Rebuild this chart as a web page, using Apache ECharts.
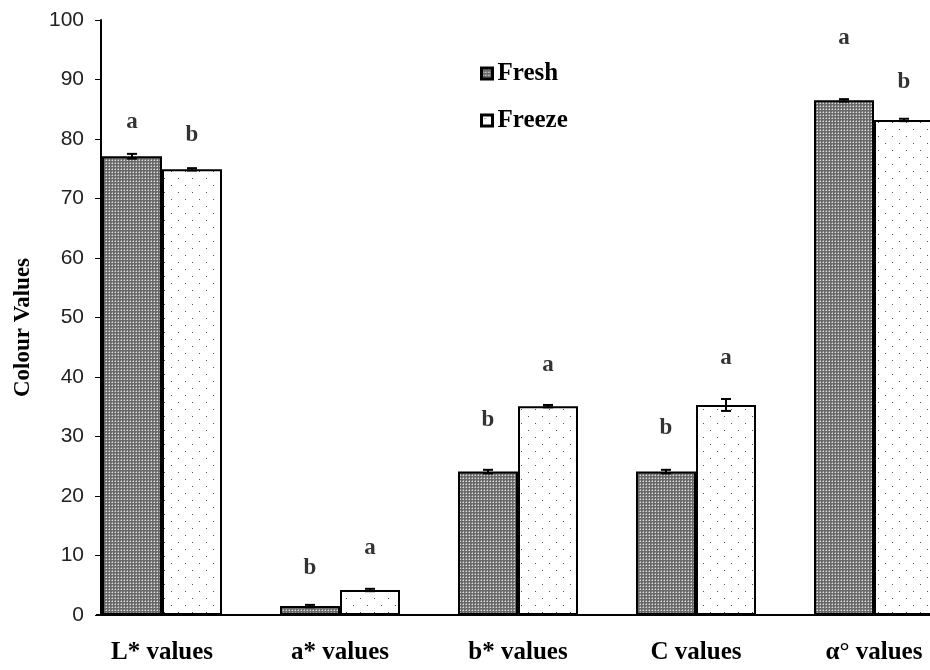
<!DOCTYPE html>
<html>
<head>
<meta charset="utf-8">
<script src="https://cdn.jsdelivr.net/npm/echarts@6/dist/echarts.min.js"></script>
<style>
  html, body { margin: 0; padding: 0; background: #fff; }
  #main { width: 930px; height: 670px; }
</style>
</head>
<body>
<div id="main"></div>
<script>
// data
var categories = ['L* values', 'a* values', 'b* values', 'C values', 'α° values'];
var freshValues = [77.1, 1.5, 24.1, 24.1, 86.5];
var freezeValues = [74.9, 4.2, 35.1, 35.3, 83.2];
var freshErr = [0.4, 0.2, 0.3, 0.3, 0.2];
var freezeErr = [0.2, 0.2, 0.2, 1.0, 0.2];
var freshLetters = ['a', 'b', 'b', 'b', 'a'];
var freezeLetters = ['b', 'a', 'a', 'a', 'b'];
// where the letters sit (in y units)
var freshLetterY = [82.9, 7.9, 32.8, 31.4, 97.0];
var freezeLetterY = [80.7, 11.3, 42.0, 43.2, 89.6];
var yTicks = [0, 10, 20, 30, 40, 50, 60, 70, 80, 90, 100];

var chart = echarts.init(document.getElementById('main'));

// fill patterns
function freshPattern() {
  var c = document.createElement('canvas');
  c.width = 3; c.height = 3;
  var ctx = c.getContext('2d');
  ctx.fillStyle = '#6a6a6a';
  ctx.fillRect(0, 0, 3, 3);
  ctx.fillStyle = '#dcdcdc';
  ctx.fillRect(1, 1, 1, 1);
  ctx.fillStyle = '#a2a2a2';
  ctx.fillRect(0, 1, 1, 1);
  ctx.fillRect(1, 0, 1, 1);
  return c;
}
function freezePattern() {
  var c = document.createElement('canvas');
  c.width = 14; c.height = 14;
  var ctx = c.getContext('2d');
  ctx.fillStyle = '#ffffff';
  ctx.fillRect(0, 0, 14, 14);
  ctx.fillStyle = '#555';
  ctx.fillRect(3, 3, 1, 1);
  ctx.fillRect(10, 10, 1, 1);
  return c;
}

var barW = 60;
var serif = '"Liberation Serif", "DejaVu Serif", serif';

function errData(vals, errs) {
  return vals.map(function (v, i) { return [i, v, errs[i]]; });
}
function errRender(off) {
  return function (params, api) {
    var i = api.value(0), v = api.value(1), e = api.value(2);
    var t = api.coord([i, v + e]);
    var b = api.coord([i, v - e]);
    var x = t[0] + off;
    var st = { stroke: '#000', lineWidth: 2 };
    return {
      type: 'group',
      children: [
        { type: 'line', shape: { x1: x, y1: t[1], x2: x, y2: b[1] }, style: st },
        { type: 'line', shape: { x1: x - 5, y1: t[1], x2: x + 5, y2: t[1] }, style: st },
        { type: 'line', shape: { x1: x - 5, y1: b[1], x2: x + 5, y2: b[1] }, style: st }
      ]
    };
  };
}
function letterData(ys) {
  return ys.map(function (y, i) { return [i, y]; });
}

var option = {
  backgroundColor: '#fff',
  animation: false,
  grid: { left: 73, width: 890, top: 20, bottom: 55, outerBoundsMode: 'none', containLabel: false },
  legend: {
    data: ['Fresh', 'Freeze'],
    orient: 'vertical',
    left: 475,
    top: 56,
    icon: 'rect',
    itemWidth: 11,
    itemHeight: 11,
    itemGap: 22,
    itemStyle: { borderColor: '#000', borderWidth: 3 },
    textStyle: { fontFamily: serif, fontWeight: 'bold', fontSize: 25, color: '#000' }
  },
  xAxis: {
    type: 'category',
    data: categories,
    axisLine: { show: false },
    axisTick: { show: false },
    axisLabel: {
      margin: 25,
      fontFamily: serif,
      fontWeight: 'bold',
      fontSize: 25,
      color: '#000'
    }
  },
  yAxis: {
    type: 'value',
    min: yTicks[0],
    max: yTicks[yTicks.length - 1],
    interval: 10,
    offset: -28,
    name: 'Colour Values',
    nameLocation: 'middle',
    nameGap: 66,
    nameRotate: 90,
    nameTextStyle: { fontFamily: serif, fontWeight: 'bold', fontSize: 23, color: '#000', padding: [0, 20, 0, 0] },
    splitLine: { show: false },
    axisLine: { show: true, lineStyle: { color: '#000', width: 2 } },
    axisTick: { show: true, length: 6, lineStyle: { color: '#000', width: 1 } },
    axisLabel: {
      margin: 17,
      fontFamily: '"Liberation Sans", Arial, sans-serif',
      fontSize: 21,
      color: '#222'
    }
  },
  graphic: [{
    type: 'line',
    shape: { x1: 96, y1: 615, x2: 930, y2: 615 },
    style: { stroke: '#000', lineWidth: 2 },
    z: 10
  }],
  series: [
    {
      name: 'Fresh',
      type: 'bar',
      data: freshValues,
      barWidth: barW,
      barGap: '0%',
      itemStyle: {
        color: { image: freshPattern(), repeat: 'repeat' },
        borderColor: '#000',
        borderWidth: 2
      }
    },
    {
      name: 'Freeze',
      type: 'bar',
      data: freezeValues,
      barWidth: barW,
      barGap: '0%',
      itemStyle: {
        color: { image: freezePattern(), repeat: 'repeat' },
        borderColor: '#000',
        borderWidth: 2
      }
    },
    {
      name: 'freshErr',
      type: 'custom',
      data: errData(freshValues, freshErr),
      renderItem: errRender(-barW / 2),
      z: 5
    },
    {
      name: 'freezeErr',
      type: 'custom',
      data: errData(freezeValues, freezeErr),
      renderItem: errRender(barW / 2),
      z: 5
    },
    {
      name: 'freshLetters',
      type: 'scatter',
      data: letterData(freshLetterY),
      symbolSize: 0,
      label: {
        show: true,
        position: 'inside',
        offset: [-barW / 2, 0],
        formatter: function (p) { return freshLetters[p.dataIndex]; },
        fontFamily: serif,
        fontWeight: 'bold',
        fontSize: 23,
        color: '#000'
      }
    },
    {
      name: 'freezeLetters',
      type: 'scatter',
      data: letterData(freezeLetterY),
      symbolSize: 0,
      label: {
        show: true,
        position: 'inside',
        offset: [barW / 2, 0],
        formatter: function (p) { return freezeLetters[p.dataIndex]; },
        fontFamily: serif,
        fontWeight: 'bold',
        fontSize: 23,
        color: '#000'
      }
    }
  ]
};
chart.setOption(option);
</script>
</body>
</html>
